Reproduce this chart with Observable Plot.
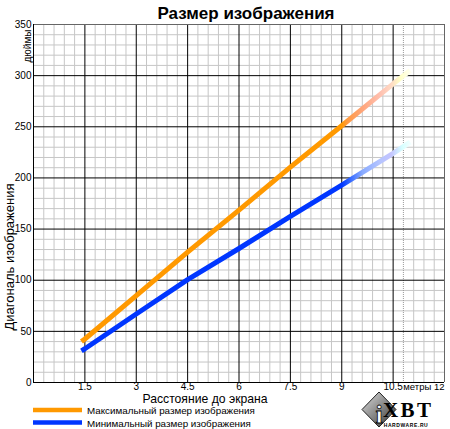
<!DOCTYPE html>
<html>
<head>
<meta charset="utf-8">
<script src="https://cdn.jsdelivr.net/npm/d3@7"></script>
<script src="https://cdn.jsdelivr.net/npm/@observablehq/plot@0.6"></script>
<style>
  html, body { margin: 0; padding: 0; background: #fff; }
  #chart svg { display: block; }
</style>
</head>
<body>
<div id="chart"></div>
<script>
// ---- data ----
const distance = [1.4, 1.5, 3, 4.5, 6, 7.5, 9, 10.5, 11];
const maxSize  = [40, 42.5, 85, 127.5, 168.5, 210.5, 251, 292, 305];
const minSize  = [31, 33, 67, 100.5, 131, 162.5, 193, 224, 235];
const seriesNames  = ["Максимальный размер изображения", "Минимальный размер изображения"];
const seriesColors = ["#ff9900", "#0036ff"];
const xTicks = [1.5, 3, 4.5, 6, 7.5, 9, 10.5];
const xTickLabels = ["1.5", "3", "4.5", "6", "7.5", "9", "10.5"];
const xEndLabel = "метры 12";
const yTicks = [0, 50, 100, 150, 200, 250, 300, 350];
const title = "Размер изображения";
const xTitle = "Расстояние до экрана";
const yTitle = "Диагональ изображения";
const yUnit = "дюймы";

const FONT = "'Liberation Sans', Arial, Helvetica, sans-serif";

const rowsMax = distance.map((d, i) => ({x: d, y: maxSize[i]}));
const rowsMin = distance.map((d, i) => ({x: d, y: minSize[i]}));

// minor grid: every 0.3 m and every 10 in
const xMinor = d3.range(0, 41).filter(i => i % 5 !== 0 && i !== 36).map(i => i * 0.3);
const xDotted = [36 * 0.3];
const yMinor = d3.range(0, 36).filter(i => i % 5 !== 0).map(i => i * 10);

const chart = Plot.plot({
  width: 450,
  height: 429,
  marginLeft: 33,
  marginRight: 6,
  marginTop: 24,
  marginBottom: 47,
  x: {domain: [0, 12]},
  y: {domain: [0, 350]},
  style: {fontFamily: FONT, fontSize: "10px", color: "#000", background: "#fff"},
  marks: [
    Plot.ruleX(xMinor, {stroke: "#c6c6c6", strokeWidth: 1}),
    Plot.ruleY(yMinor, {stroke: "#c6c6c6", strokeWidth: 1}),
    Plot.ruleX(xDotted, {stroke: "#9a9a9a", strokeWidth: 1, strokeDasharray: "1,1"}),
    Plot.ruleX(xTicks, {stroke: "#000", strokeWidth: 1}),
    Plot.ruleY(yTicks.filter(v => v > 0 && v < 350), {stroke: "#000", strokeWidth: 1}),
    Plot.ruleY([350], {stroke: "#666", strokeWidth: 1}),
    Plot.ruleX([12], {stroke: "#666", strokeWidth: 1}),
    Plot.ruleX([0], {stroke: "#000", strokeWidth: 1}),
    Plot.ruleY([0], {stroke: "#000", strokeWidth: 1}),
    Plot.line(rowsMax, {x: "x", y: "y", stroke: "url(#gOrange)", strokeWidth: 5, strokeLinecap: "butt"}),
    Plot.line(rowsMin, {x: "x", y: "y", stroke: "url(#gBlue)", strokeWidth: 5, strokeLinecap: "butt"}),
    Plot.axisY({ticks: yTicks, tickSize: 0, tickPadding: 2, label: null, fontSize: 10}),
    Plot.axisX({ticks: xTicks, tickSize: 0, tickPadding: 0, label: null, fontSize: 10,
      tickFormat: d => xTickLabels[xTicks.indexOf(d)]}),
    Plot.text([xEndLabel], {x: () => 12, frameAnchor: "bottom", textAnchor: "end", lineAnchor: "top", dy: 0.5, dx: 0, fontSize: 9.5})
  ]
});

document.getElementById("chart").appendChild(chart);

const svg = d3.select(chart);
const sx = chart.scale("x");
const g0 = sx.apply(9), g1 = sx.apply(11);

const defs = svg.insert("defs", ":first-child");
function grad(id, stops) {
  const lg = defs.append("linearGradient").attr("id", id)
    .attr("gradientUnits", "userSpaceOnUse")
    .attr("x1", g0).attr("x2", g1).attr("y1", 0).attr("y2", 0);
  stops.forEach(([o, c]) => lg.append("stop").attr("offset", o).attr("stop-color", c));
}
grad("gOrange", [[0, seriesColors[0]], [0.08, "#ff9a40"], [0.3, "#ffa57a"], [0.55, "#ffbfae"], [0.72, "#ffd9c4"], [0.85, "#ffffc6"], [1, "#fffff0"]]);
grad("gBlue", [[0, seriesColors[1]], [0.1, "#2a60ff"], [0.3, "#88aaff"], [0.55, "#b4c4ff"], [0.72, "#c4c4ff"], [0.88, "#d6ffff"], [1, "#f2ffff"]]);

function addText(x, y, txt, opts = {}) {
  const t = svg.append("text").attr("x", x).attr("y", y)
    .attr("text-anchor", opts.anchor || "start")
    .attr("font-family", opts.family || FONT)
    .attr("font-size", opts.size || 10)
    .attr("fill", opts.fill || "#000")
    .text(txt);
  if (opts.weight) t.attr("font-weight", opts.weight);
  if (opts.transform) t.attr("transform", opts.transform);
  return t;
}

// title
addText(246, 19, title, {anchor: "middle", weight: "bold", size: 17});
// x title
addText(205, 402.5, xTitle, {anchor: "middle", size: 12.2});
// y title
addText(0, 0, yTitle, {anchor: "middle", size: 13, transform: "translate(14,257) rotate(-90)"});
// unit
addText(0, 0, yUnit, {anchor: "middle", size: 10, transform: "translate(31,46) rotate(-90)"});

// legend
seriesNames.forEach((name, i) => {
  const y = 410 + i * 12.5;
  svg.append("line").attr("x1", 33).attr("x2", 82).attr("y1", y).attr("y2", y)
    .attr("stroke", seriesColors[i]).attr("stroke-width", 4.5);
  addText(87, y + 4, name, {size: 9.8});
});

// logo
const logo = svg.append("g");
const lg = defs.append("linearGradient").attr("id", "gLogo").attr("x1", 0).attr("y1", 0).attr("x2", 1).attr("y2", 1);
lg.append("stop").attr("offset", 0).attr("stop-color", "#e0e0e0");
lg.append("stop").attr("offset", 1).attr("stop-color", "#303030");
logo.append("path").attr("d", "M379,392 L396,409.5 L379,427 L362,409.5 Z")
  .attr("fill", "url(#gLogo)").attr("stroke", "#222").attr("stroke-width", 1);
addText(379, 423, "i", {anchor: "middle", family: "'Liberation Serif', 'DejaVu Serif', serif", weight: "bold", size: 26, fill: "#fff"})
  .attr("stroke", "#000").attr("stroke-width", 0.8);
addText(407, 416.5, "XBT", {anchor: "middle", family: "'Liberation Serif', 'DejaVu Serif', serif", weight: "bold", size: 21})
  .attr("textLength", 48);
addText(406, 426.5, "HARDWARE.RU", {anchor: "middle", weight: "bold", size: 5}).attr("letter-spacing", 0.6);
</script>
</body>
</html>
